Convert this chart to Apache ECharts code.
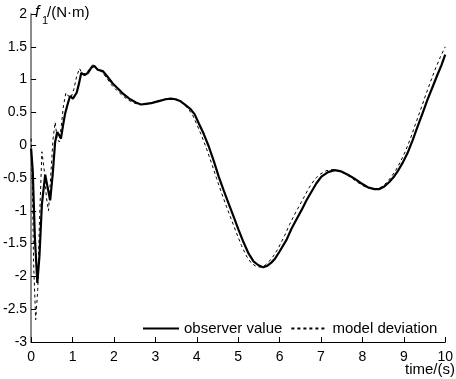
<!DOCTYPE html>
<html>
<head>
<meta charset="utf-8">
<script src="https://cdn.jsdelivr.net/npm/echarts@6/dist/echarts.min.js"></script>
<style>
  html, body { margin: 0; padding: 0; background: #fff; }
  #main { width: 456px; height: 379px; }
</style>
</head>
<body>
<div id="main"></div>
<script>
// observer value (solid)
const observerT = [0, 0.04, 0.09, 0.15, 0.2, 0.26, 0.34, 0.4, 0.46, 0.52, 0.58, 0.63, 0.68, 0.72, 0.77, 0.82, 0.88, 0.94, 1.01, 1.1, 1.16, 1.21, 1.29, 1.37, 1.45, 1.52, 1.61, 1.73, 1.85, 1.97, 2.1, 2.21, 2.37, 2.53, 2.65, 2.77, 2.9, 3.01, 3.13, 3.25, 3.37, 3.49, 3.61, 3.73, 3.85, 3.95, 4.05, 4.17, 4.29, 4.41, 4.53, 4.65, 4.77, 4.89, 5.01, 5.13, 5.25, 5.37, 5.49, 5.6, 5.7, 5.8, 5.89, 6.0, 6.17, 6.29, 6.41, 6.53, 6.65, 6.77, 6.89, 7.01, 7.17, 7.33, 7.49, 7.65, 7.81, 7.97, 8.13, 8.29, 8.4, 8.53, 8.65, 8.75, 8.85, 8.97, 9.09, 9.21, 9.33, 9.45, 9.57, 9.69, 9.81, 9.91, 10.0];
const observerV = [-0.05, -0.4, -1.4, -2.1, -1.7, -0.9, -0.45, -0.65, -0.84, -0.45, 0.05, 0.2, 0.15, 0.1, 0.3, 0.48, 0.62, 0.75, 0.71, 0.8, 0.95, 1.1, 1.07, 1.1, 1.18, 1.21, 1.15, 1.13, 1.04, 0.94, 0.86, 0.79, 0.71, 0.65, 0.62, 0.63, 0.64, 0.66, 0.68, 0.70, 0.71, 0.70, 0.67, 0.61, 0.55, 0.47, 0.33, 0.17, -0.02, -0.24, -0.48, -0.69, -0.89, -1.09, -1.29, -1.48, -1.65, -1.77, -1.83, -1.86, -1.84, -1.79, -1.73, -1.62, -1.44, -1.27, -1.13, -0.99, -0.84, -0.71, -0.58, -0.48, -0.41, -0.38, -0.40, -0.45, -0.51, -0.58, -0.64, -0.67, -0.67, -0.63, -0.56, -0.49, -0.40, -0.27, -0.12, 0.07, 0.28, 0.48, 0.69, 0.88, 1.07, 1.22, 1.38];

// model deviation (dashed)
const modelT = [0, 0.03, 0.06, 0.11, 0.16, 0.2, 0.26, 0.32, 0.37, 0.42, 0.47, 0.53, 0.58, 0.63, 0.68, 0.73, 0.78, 0.84, 0.9, 0.96, 1.03, 1.1, 1.17, 1.24, 1.33, 1.42, 1.49, 1.57, 1.7, 1.82, 1.94, 2.06, 2.18, 2.34, 2.5, 2.62, 2.74, 2.87, 2.98, 3.1, 3.22, 3.34, 3.46, 3.58, 3.7, 3.8, 3.9, 4.0, 4.12, 4.24, 4.36, 4.48, 4.6, 4.72, 4.84, 4.96, 5.08, 5.2, 5.32, 5.44, 5.55, 5.65, 5.75, 5.85, 5.96, 6.12, 6.24, 6.36, 6.48, 6.6, 6.72, 6.84, 6.96, 7.12, 7.28, 7.44, 7.6, 7.76, 7.92, 8.08, 8.24, 8.36, 8.48, 8.6, 8.7, 8.8, 8.92, 9.04, 9.16, 9.28, 9.4, 9.52, 9.64, 9.76, 9.88, 10.0];
const modelV = [0.1, -0.6, -1.8, -2.66, -2.2, -1.2, -0.1, -0.4, -0.8, -1.0, -0.5, 0.1, 0.35, 0.1, 0.05, 0.3, 0.6, 0.8, 0.75, 0.72, 0.85, 1.05, 1.17, 1.08, 1.1, 1.17, 1.23, 1.18, 1.12, 1.03, 0.92, 0.84, 0.77, 0.69, 0.64, 0.62, 0.62, 0.64, 0.66, 0.68, 0.70, 0.71, 0.70, 0.67, 0.62, 0.55, 0.46, 0.32, 0.14, -0.06, -0.28, -0.51, -0.73, -0.94, -1.14, -1.34, -1.53, -1.69, -1.8, -1.85, -1.86, -1.83, -1.77, -1.69, -1.58, -1.38, -1.21, -1.06, -0.92, -0.78, -0.64, -0.53, -0.45, -0.39, -0.37, -0.39, -0.44, -0.51, -0.58, -0.64, -0.67, -0.67, -0.63, -0.56, -0.48, -0.39, -0.25, -0.09, 0.1, 0.32, 0.53, 0.75, 0.96, 1.16, 1.34, 1.5];

const seriesNames = ['observer value', 'model deviation'];

const chart = echarts.init(document.getElementById('main'));
const font = 'Arial, "Liberation Sans", sans-serif';

const pairs = (ts, vs) => ts.map((t, i) => [t, vs[i]]);

chart.setOption({
  animation: false,
  backgroundColor: '#fff',
  grid: { left: 31, right: 8, top: 14, bottom: 37 },
  legend: {
    left: 137, top: 316,
    itemWidth: 36, itemHeight: 10, itemGap: 8,
    itemStyle: { opacity: 0 },
    textStyle: { fontFamily: font, fontSize: 15, color: '#000' },
    data: seriesNames
  },
  xAxis: {
    type: 'value', min: 0, max: 10, interval: 1,
    axisLine: { onZero: false, lineStyle: { color: '#000', width: 1 } },
    axisTick: { inside: true, length: 5, lineStyle: { color: '#000' } },
    axisLabel: { color: '#000', fontFamily: font, fontSize: 14, margin: 8 },
    splitLine: { show: false }
  },
  yAxis: {
    type: 'value', min: -3, max: 2, interval: 0.5,
    axisLine: { show: true, onZero: false, lineStyle: { color: '#666', width: 1.5 } },
    axisTick: { show: true, inside: true, length: 5, lineStyle: { color: '#000' } },
    axisLabel: { color: '#000', fontFamily: font, fontSize: 14, margin: 4 },
    splitLine: { show: false }
  },
  graphic: [
    { type: 'text', left: 35, top: 5, style: { text: 'f', font: 'italic 16px ' + font, fill: '#000' } },
    { type: 'text', left: 42, top: 15, style: { text: '1', font: '11px ' + font, fill: '#000' } },
    { type: 'text', left: 47, top: 5, style: { text: '/(N·m)', font: '15px ' + font, fill: '#000' } },
    { type: 'text', right: 1, top: 362, style: { text: 'time/(s)', font: '15px ' + font, fill: '#000' } }
  ],
  series: [
    {
      name: seriesNames[0], type: 'line', showSymbol: false, symbol: 'none',
      lineStyle: { color: '#000', width: 2.2 }, itemStyle: { color: '#000' },
      data: pairs(observerT, observerV), z: 3
    },
    {
      name: seriesNames[1], type: 'line', showSymbol: false, symbol: 'none',
      lineStyle: { color: '#000', width: 1, type: [3, 3] }, itemStyle: { color: '#000' },
      data: pairs(modelT, modelV), z: 2
    }
  ]
});
</script>
</body>
</html>
